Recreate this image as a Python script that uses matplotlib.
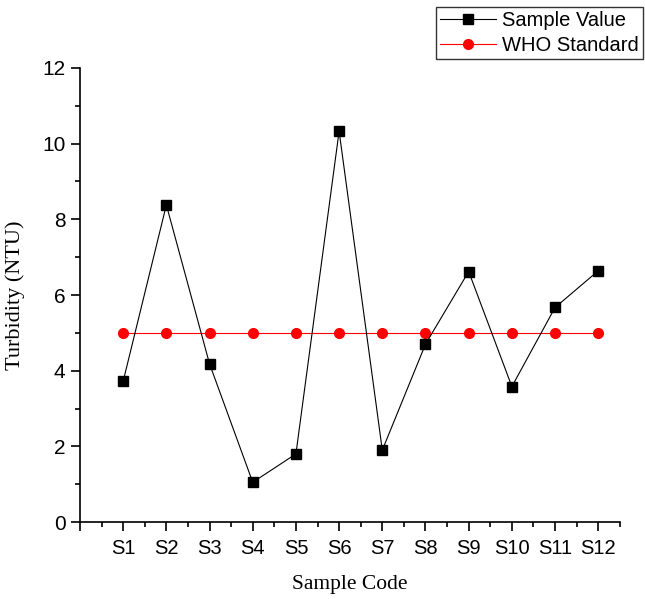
import matplotlib
matplotlib.use("Agg")
import matplotlib.pyplot as plt
from matplotlib.ticker import MultipleLocator

categories = ["S1", "S2", "S3", "S4", "S5", "S6", "S7", "S8", "S9", "S10", "S11", "S12"]
sample_values = [3.72, 8.38, 4.18, 1.05, 1.80, 10.33, 1.90, 4.70, 6.62, 3.58, 5.67, 6.64]
who_standard = [5, 5, 5, 5, 5, 5, 5, 5, 5, 5, 5, 5]

fig = plt.figure(figsize=(6.45, 5.99), dpi=100)
ax = fig.add_axes([0.124, 0.1285, 0.837, 0.758])

x = list(range(1, len(categories) + 1))
ax.plot(x, who_standard, color="red", marker="o", markersize=7, linewidth=0.8,
        label="WHO Standard", zorder=2)
ax.plot(x, sample_values, color="black", marker="s", markersize=6.5, linewidth=0.8,
        label="Sample Value", zorder=3)

ax.set_xlim(0, 12.5)
ax.set_ylim(0, 12)
ax.set_xticks([0] + x)
ax.set_xticklabels([""] + categories, fontfamily="Liberation Sans", fontsize=14.5)
ax.xaxis.set_minor_locator(MultipleLocator(0.5))
ax.yaxis.set_major_locator(MultipleLocator(2))
ax.yaxis.set_minor_locator(MultipleLocator(1))
for lbl in ax.get_yticklabels():
    lbl.set_fontfamily("Liberation Sans")
    lbl.set_fontsize(15)

for s in ["top", "right"]:
    ax.spines[s].set_visible(False)
for s in ["left", "bottom"]:
    ax.spines[s].set_linewidth(1.2)
ax.tick_params(which="major", direction="out", length=6.5, width=1.2)
ax.tick_params(which="minor", direction="out", length=3.5, width=1.2)
ax.tick_params(axis="x", which="major", pad=6)
ax.tick_params(axis="y", which="major", pad=4)

ax.set_xlabel("Sample Code", fontfamily="Liberation Serif", fontsize=15.5, labelpad=12)
ax.set_ylabel("Turbidity (NTU)", fontfamily="Liberation Serif", fontsize=16, labelpad=12)

handles, labels = ax.get_legend_handles_labels()
leg = fig.legend(handles[::-1], labels[::-1], loc="upper right",
                 bbox_to_anchor=(0.997, 0.988), frameon=True, fancybox=False,
                 edgecolor="black", prop={"family": "Liberation Sans", "size": 14.5},
                 borderpad=0.2, labelspacing=0.3, handlelength=2.8,
                 handletextpad=0.3, borderaxespad=0)
leg.get_frame().set_linewidth(1.0)

fig.savefig("out.png", dpi=100)
